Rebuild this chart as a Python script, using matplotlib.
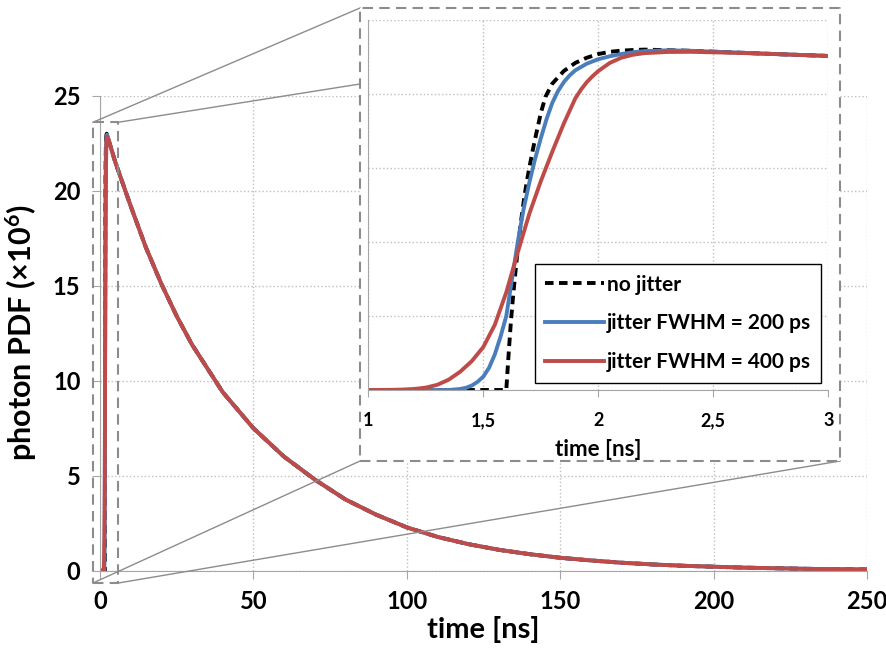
import matplotlib
matplotlib.use("Agg")
import matplotlib.pyplot as plt
from matplotlib.patches import Rectangle
from matplotlib.lines import Line2D

plt.rcParams['font.family'] = ['Lato', 'DejaVu Sans']
plt.rcParams['font.weight'] = 'bold'
plt.rcParams['mathtext.default'] = 'regular'

# rising edge, 1-3 ns
t_nojit = [1.0, 1.6, 1.605, 1.61, 1.62, 1.63, 1.64, 1.65, 1.66, 1.67, 1.68, 1.69, 1.70,
           1.715, 1.73, 1.75, 1.77, 1.80, 1.85, 1.90, 1.95, 2.0, 2.05, 2.1, 2.15, 2.2,
           2.4, 2.6, 2.8, 3.0]
y_nojit = [0, 0, 1.2, 2.4, 4.6, 6.4, 8.0, 9.5, 10.9, 12.1, 13.2, 14.15, 15.0,
           16.2, 17.3, 18.7, 19.8, 20.7, 21.55, 22.1, 22.45, 22.7, 22.85, 22.93, 22.97, 23.0,
           22.92, 22.8, 22.68, 22.57]

t_j200 = [1.0, 1.35, 1.40, 1.425, 1.45, 1.475, 1.50, 1.525, 1.55, 1.575, 1.60, 1.625,
          1.65, 1.675, 1.70, 1.725, 1.75, 1.775, 1.80, 1.825, 1.85, 1.875, 1.90, 1.95,
          2.0, 2.05, 2.1, 2.15, 2.2, 2.3, 2.4, 2.6, 2.8, 3.0]
y_j200 = [0, 0, 0.07, 0.15, 0.3, 0.55, 0.9, 1.5, 2.4, 3.6, 5.0, 7.5,
          10.0, 12.2, 14.0, 15.6, 17.0, 18.3, 19.4, 20.2, 20.8, 21.25, 21.6, 22.05,
          22.35, 22.55, 22.7, 22.82, 22.9, 22.95, 22.92, 22.8, 22.68, 22.57]

t_j400 = [1.0, 1.1, 1.15, 1.2, 1.25, 1.30, 1.35, 1.40, 1.45, 1.50, 1.55, 1.60, 1.65,
          1.70, 1.75, 1.80, 1.85, 1.90, 1.925, 1.95, 1.975, 2.0, 2.05, 2.1, 2.15, 2.2,
          2.3, 2.4, 2.6, 2.8, 3.0]
y_j400 = [0, 0.01, 0.03, 0.07, 0.16, 0.35, 0.7, 1.24, 1.95, 2.9, 4.4, 6.6, 9.3,
          11.9, 14.1, 16.1, 18.0, 19.7, 20.3, 20.8, 21.2, 21.55, 22.1, 22.45, 22.65, 22.76,
          22.84, 22.85, 22.78, 22.68, 22.57]

# decay tail, same for all three
t_tail = [5, 10, 15, 20, 25, 30, 40, 50, 60, 70, 80, 90, 100, 110, 120, 130, 140,
          150, 160, 170, 180, 190, 200, 210, 220, 230, 240, 250]
y_tail = [21.5, 19.2, 17.0, 15.1, 13.4, 11.9, 9.4, 7.5, 6.0, 4.8, 3.75, 2.95, 2.28,
          1.78, 1.40, 1.10, 0.87, 0.68, 0.54, 0.42, 0.33, 0.26, 0.21, 0.16, 0.13, 0.10, 0.08, 0.065]

labels = ['no jitter', 'jitter FWHM = 200 ps', 'jitter FWHM = 400 ps']
inset_ticks = [1, 1.5, 2, 2.5, 3]
inset_ticklabels = ['1', '1,5', '2', '2,5', '3']

BLUE = '#4a7ebb'
RED = '#be4b48'
AXC = '#a6a6a6'
GRID = '#bfbfbf'
FRAME = '#8c8c8c'

series = [(t_nojit, y_nojit, 'black', (0, (2.2, 1.4))),
          (t_j200, y_j200, BLUE, '-'),
          (t_j400, y_j400, RED, '-')]

fig = plt.figure(figsize=(8.87, 6.6), dpi=100)
ax = fig.add_axes([0.1127, 0.1353, 0.8648, 0.7197])
for t, y, c, ls in series:
    ax.plot([0] + t + t_tail, [0] + y + y_tail, color=c, ls=ls, lw=2.8, zorder=2)

ax.set_xlim(0, 250)
ax.set_ylim(0, 25)
ax.set_xticks(range(0, 251, 50))
ax.set_yticks(range(0, 26, 5))
ax.grid(True, ls=':', color=GRID, lw=1)
for s in ['top', 'right']:
    ax.spines[s].set_visible(False)
for s in ['left', 'bottom']:
    ax.spines[s].set_color(AXC)
ax.tick_params(axis='x', direction='out', color=AXC, length=6, labelsize=17, pad=8)
ax.tick_params(axis='y', direction='out', color=AXC, length=6, labelsize=17, pad=8)
ax.set_xlabel('time [ns]', fontsize=21, fontweight='bold', labelpad=2)
ax.set_ylabel('photon PDF (×10$^{6}$)', fontsize=22, fontweight='bold', labelpad=10)

# small dashed box around the rising edge
ax.add_patch(Rectangle((-2.3, -0.65), 8.2, 24.25, fill=False, ec=FRAME, lw=1.5,
                       ls=(0, (5, 3)), clip_on=False, zorder=3))

# big dashed box holding the zoom
big = [0.4059, 0.3015, 0.5411, 0.6864]
fig.add_artist(Rectangle((big[0], big[1]), big[2], big[3], transform=fig.transFigure,
                         fc='white', ec=FRAME, lw=1.5, ls=(0, (5, 3)), zorder=4))

inv = fig.transFigure.inverted()
small_corners = [(-2.3, 23.6), (5.9, 23.6), (-2.3, -0.65), (5.9, -0.65)]
big_corners = [(big[0], big[1] + big[3]), (big[0] + big[2], big[1] + big[3]),
               (big[0], big[1]), (big[0] + big[2], big[1])]
for (dx, dy), (bx, by) in zip(small_corners, big_corners):
    fx, fy = inv.transform(ax.transData.transform((dx, dy)))
    fig.add_artist(Line2D([fx, bx], [fy, by], transform=fig.transFigure,
                          color=FRAME, lw=1, zorder=3))

axin = fig.add_axes([0.4152, 0.4091, 0.5186, 0.5606], zorder=5)
for (t, y, c, ls), lab in zip(series, labels):
    axin.plot(t, y, color=c, ls=ls, lw=2.8, label=lab)
axin.set_xlim(1, 3)
axin.set_ylim(0, 25)
axin.set_xticks(inset_ticks)
axin.set_xticklabels(inset_ticklabels)
axin.set_yticks(range(0, 26, 5))
axin.set_yticklabels([])
axin.grid(True, ls=':', color=GRID, lw=1)
for s in ['top', 'right']:
    axin.spines[s].set_visible(False)
for s in ['left', 'bottom']:
    axin.spines[s].set_color(AXC)
axin.tick_params(axis='x', direction='out', color=AXC, length=5, labelsize=13, pad=11)
axin.tick_params(axis='y', length=0)
axin.set_xlabel('time [ns]', fontsize=16, fontweight='bold', labelpad=7)

leg = axin.legend(loc='lower right', bbox_to_anchor=(0.985, 0.02), borderaxespad=0,
                  fontsize=15, handlelength=2.8, handletextpad=0.15, labelspacing=0.9,
                  borderpad=0.5, fancybox=False, framealpha=1)
leg.get_frame().set_edgecolor('black')
leg.get_frame().set_linewidth(1)

fig.savefig('out.png', dpi=100)
